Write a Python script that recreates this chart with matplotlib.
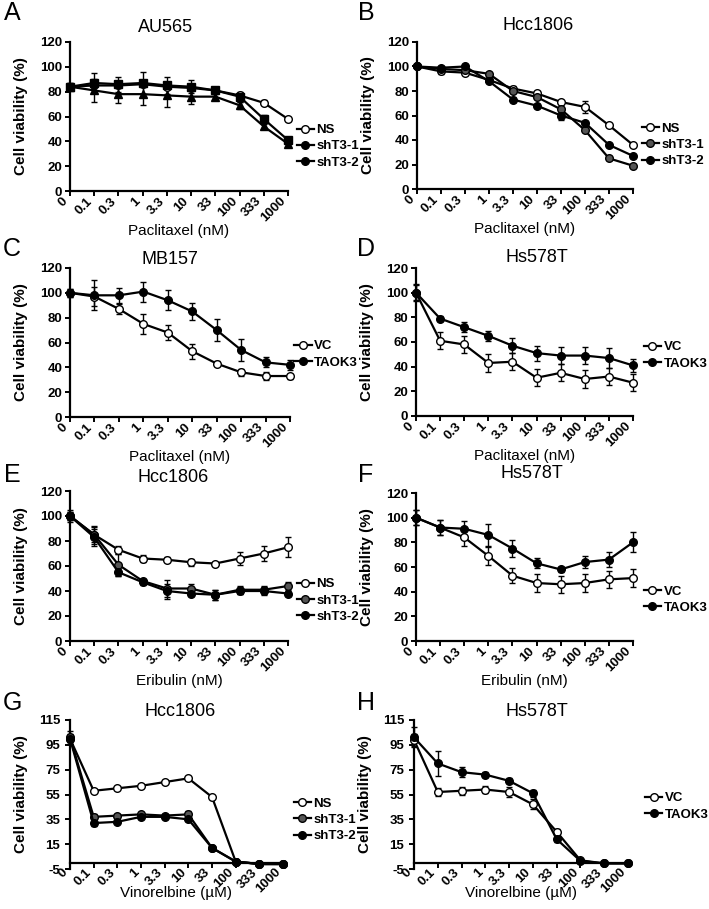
import matplotlib
matplotlib.use("Agg")
import matplotlib.pyplot as plt
import matplotlib.transforms as mtransforms
from matplotlib.lines import Line2D

plt.rcParams["font.family"] = ["Liberation Sans", "DejaVu Sans"]
plt.rcParams["axes.unicode_minus"] = False

W, H = 709, 909

doses = ["0", "0.1", "0.3", "1", "3.3", "10", "33", "100", "333", "1000"]

# A: AU565, paclitaxel
a_ns = [84, 85, 85, 86, 84, 83, 81, 77, 71, 58]
a_ns_err = [2, 2, 2, 2, 2, 2, 2, 2, 2, 2]
a_sh1 = [84, 87, 86, 87, 85, 84, 81, 76, 58, 41]
a_sh1_err = [3, 8, 6, 9, 7, 5, 3, 4, 3, 2]
a_sh2 = [84, 81, 78, 78, 77, 76, 76, 69, 52, 38]
a_sh2_err = [3, 9, 7, 9, 9, 6, 3, 3, 2, 2]

# B: Hcc1806, paclitaxel
b_ns = [100, 96, 95, 89, 82, 78, 71, 67, 52, 36]
b_ns_err = [1, 2, 2, 1, 2, 2, 1, 5, 1, 1]
b_sh1 = [100, 98, 97, 94, 80, 75, 65, 48, 25, 19]
b_sh1_err = [1, 1, 2, 1, 1, 1, 2, 1, 1, 1]
b_sh2 = [100, 99, 100, 88, 73, 68, 60, 54, 36, 27]
b_sh2_err = [1, 1, 1, 1, 2, 1, 4, 1, 1, 1]

# C: MB157, paclitaxel
c_vc = [100, 97, 87, 75, 68, 53, 43, 36, 33, 33]
c_vc_err = [3, 8, 4, 8, 6, 6, 2, 3, 3, 2]
c_taok3 = [100, 98, 98, 101, 94, 85, 70, 54, 44, 42]
c_taok3_err = [3, 12, 6, 8, 8, 7, 9, 9, 4, 4]

# D: Hs578T, paclitaxel
d_vc = [100, 61, 58, 43, 44, 31, 35, 30, 32, 27]
d_vc_err = [7, 7, 7, 7, 7, 7, 7, 7, 7, 7]
d_taok3 = [100, 79, 72, 65, 57, 51, 49, 49, 47, 41]
d_taok3_err = [6, 2, 4, 4, 6, 6, 7, 7, 8, 5]

# E: Hcc1806, eribulin
e_ns = [100, 85, 73, 66, 65, 63, 62, 66, 70, 75]
e_ns_err = [5, 6, 3, 3, 2, 3, 1, 5, 6, 8]
e_sh1 = [100, 85, 61, 48, 42, 42, 37, 41, 41, 44]
e_sh1_err = [3, 7, 9, 2, 7, 4, 4, 3, 3, 3]
e_sh2 = [100, 83, 55, 47, 40, 38, 37, 40, 40, 38]
e_sh2_err = [3, 7, 3, 2, 6, 2, 4, 2, 3, 2]

# F: Hs578T, eribulin
f_vc = [100, 92, 84, 69, 53, 47, 46, 47, 50, 51]
f_vc_err = [6, 6, 7, 7, 6, 7, 7, 7, 7, 7]
f_taok3 = [100, 92, 91, 86, 75, 63, 58, 64, 66, 80]
f_taok3_err = [6, 6, 6, 9, 7, 4, 2, 5, 6, 8]

# G: Hcc1806, vinorelbine
g_ns = [100, 58, 60, 62, 65, 68, 53, 1, -1, -1]
g_ns_err = [3, 1, 1, 1, 1, 1, 1, 1, 0, 0]
g_sh1 = [101, 37, 38, 39, 38, 39, 12, 1, -1, -1]
g_sh1_err = [5, 2, 1, 1, 1, 3, 1, 0, 0, 0]
g_sh2 = [100, 32, 33, 37, 37, 35, 12, 1, -1, -1]
g_sh2_err = [4, 2, 1, 1, 1, 1, 1, 0, 0, 0]

# H: Hs578T, vinorelbine
h_vc = [99, 57, 58, 59, 57, 47, 25, 2, -0.5, -0.5]
h_vc_err = [5, 3, 3, 3, 4, 4, 2, 0, 0, 0]
h_taok3 = [101, 80, 73, 71, 66, 56, 19, 1.5, -0.5, -0.5]
h_taok3_err = [8, 10, 4, 2, 2, 3, 2, 0, 0, 0]

WHITE, GREY, BLACK = "white", "#555555", "black"

fig = plt.figure(figsize=(W / 100, H / 100), dpi=100)
# rotated dose labels sit a little right of their tick, like the Excel original
label_shift = mtransforms.ScaledTranslation(0.08, 0, fig.dpi_scale_trans)


def add_ax(l, t, r, b):
    return fig.add_axes([l / W, 1 - b / H, (r - l) / W, (b - t) / H])


def panel(box, series, title, tpos, letter, lpos, xlabel, leg_y, leg_x=1.02, vino=False):
    ax = add_ax(*box)
    # spine position first: moving it resets the tick label styling
    if vino:
        ax.spines["bottom"].set_position(("data", 0))
    xs = list(range(len(doses)))
    for vals, err, face, mk in series:
        ax.errorbar(xs, vals, yerr=err, color="black", lw=1.6, marker=mk, ms=5.5,
                    mfc=face, mec="black", mew=1.0, ecolor="black", elinewidth=1.0,
                    capsize=2.2, capthick=1.0, clip_on=False, zorder=3)
    ax.set_xlim(0, len(doses) - 1)
    ax.set_xticks(xs)
    ax.set_xticklabels(doses, rotation=45, ha="right", va="top",
                       fontsize=9.5, fontweight="bold")
    for lab in ax.get_xticklabels():
        lab.set_transform(lab.get_transform() + label_shift)
    if vino:
        ax.set_ylim(-5, 115)
        ax.set_yticks(range(-5, 116, 20))
    else:
        ax.set_ylim(0, 120)
        ax.set_yticks(range(0, 121, 20))
    for lab in ax.get_yticklabels():
        lab.set_fontsize(9.5)
        lab.set_fontweight("bold")
    for s in ("top", "right"):
        ax.spines[s].set_visible(False)
    for s in ("left", "bottom"):
        ax.spines[s].set_linewidth(1.6)
    ax.tick_params(direction="out", length=3.5, width=1.4, pad=2)
    ax.tick_params(axis="x", pad=-1 if vino else -0.5)
    if vino:
        # keep "-5" clear of the rotated "0" below the y=0 baseline
        ax.tick_params(axis="y", pad=3.5)
    ax.set_ylabel("Cell viability (%)", fontsize=11, fontweight="bold")
    wpx = box[2] - box[0]
    hpx = box[3] - box[1]
    ax.yaxis.set_label_coords(-42 / wpx, 0.5)
    ax.set_xlabel(xlabel, fontsize=11, va="center")
    ax.xaxis.set_label_coords(0.5, -(24 if vino else 40) / hpx)
    fig.text(tpos[0] / W, 1 - tpos[1] / H, title, fontsize=13, ha="center", va="center")
    fig.text(lpos[0] / W, 1 - lpos[1] / H, letter, fontsize=18, ha="center", va="center")
    handles = [Line2D([], [], color="black", lw=1.6, marker="o", ms=5.5, mfc=face,
                      mec="black", mew=1.0) for _, _, face, _ in series]
    names = ["NS", "shT3-1", "shT3-2"] if len(series) == 3 else ["VC", "TAOK3"]
    ax.legend(handles, names, loc="center left", bbox_to_anchor=(leg_x, leg_y),
              frameon=False, handlelength=1.3, handletextpad=0.2, labelspacing=0.3,
              borderaxespad=0, borderpad=0,
              prop={"size": 9.5, "weight": "bold"})
    return ax


panel((70, 42, 288, 191),
      [(a_ns, a_ns_err, WHITE, "o"), (a_sh1, a_sh1_err, BLACK, "s"), (a_sh2, a_sh2_err, BLACK, "^")],
      "AU565", (166, 28), "A", (12, 13), "Paclitaxel (nM)", 0.30, 1.04)
panel((417, 42, 633, 189),
      [(b_ns, b_ns_err, WHITE, "o"), (b_sh1, b_sh1_err, GREY, "o"), (b_sh2, b_sh2_err, BLACK, "o")],
      "Hcc1806", (538, 26), "B", (366, 13), "Paclitaxel (nM)", 0.30, 1.04)
panel((70, 268, 290, 417),
      [(c_vc, c_vc_err, WHITE, "o"), (c_taok3, c_taok3_err, BLACK, "o")],
      "MB157", (170, 259), "C", (12, 249), "Paclitaxel (nM)", 0.42, 1.02)
panel((416, 268, 633, 416),
      [(d_vc, d_vc_err, WHITE, "o"), (d_taok3, d_taok3_err, BLACK, "o")],
      "Hs578T", (537, 257), "D", (366, 249), "Paclitaxel (nM)", 0.41, 1.05)
panel((70, 491, 288, 641),
      [(e_ns, e_ns_err, WHITE, "o"), (e_sh1, e_sh1_err, GREY, "o"), (e_sh2, e_sh2_err, BLACK, "o")],
      "Hcc1806", (173, 478), "E", (12, 475), "Eribulin (nM)", 0.27, 1.04)
panel((416, 493, 633, 641),
      [(f_vc, f_vc_err, WHITE, "o"), (f_taok3, f_taok3_err, BLACK, "o")],
      "Hs578T", (532, 474), "F", (366, 475), "Eribulin (nM)", 0.28, 1.05)
panel((70, 720, 283, 869),
      [(g_ns, g_ns_err, WHITE, "o"), (g_sh1, g_sh1_err, GREY, "o"), (g_sh2, g_sh2_err, BLACK, "o")],
      "Hcc1806", (180, 712), "G", (12, 703), "Vinorelbine (\u00b5M)", 0.33, 1.05, vino=True)
panel((414, 720, 628, 869),
      [(h_vc, h_vc_err, WHITE, "o"), (h_taok3, h_taok3_err, BLACK, "o")],
      "Hs578T", (537, 712), "H", (366, 703), "Vinorelbine (\u00b5M)", 0.42, 1.08, vino=True)

fig.savefig("out.png", dpi=100)
